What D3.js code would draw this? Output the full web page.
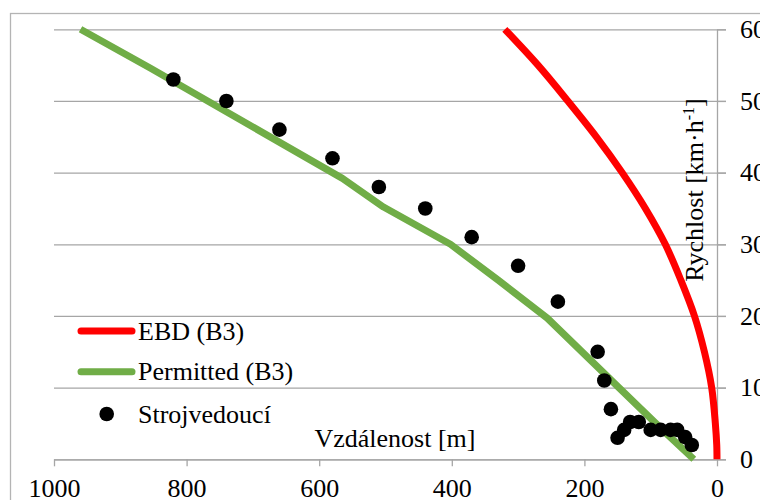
<!DOCTYPE html>
<html>
<head>
<meta charset="utf-8">
<script src="https://cdn.jsdelivr.net/npm/d3@7"></script>
<style>
body { margin: 0; background: #fff; }
svg, svg text { font-family: "Liberation Serif", "Times New Roman", Times, "DejaVu Serif", serif; }
</style>
</head>
<body>
<div id="chart"></div>
<script>
var w = 760;
var h = 500;

// distance [m], speed [km/h]
var ebdDist = [0, 0.4, 2.5, 8, 19, 34, 54.5, 78, 108, 143, 182, 225, 270, 320];
var ebdSpeed = [0, 2, 5, 10, 15, 20, 25, 30, 35, 40, 45, 50, 55, 60];

var permDist = [960, 855, 565, 503, 402, 330, 256, 148, 81, 35];
var permSpeed = [60, 54.6, 39.2, 35.2, 30, 25, 19.7, 10, 4, 0];

var driverDist = [820, 740, 660, 580, 510, 440, 370, 300, 240, 180, 170, 160, 150, 140, 131, 118, 100, 85, 70, 60, 48, 38];
var driverSpeed = [53, 50, 46, 42, 38, 35, 31, 27, 22, 15, 11, 7, 3, 4.1, 5.2, 5.2, 4.1, 4.1, 4.1, 4.1, 3.1, 2];

var xTicks = [1000, 800, 600, 400, 200, 0];
var yTicks = [0, 10, 20, 30, 40, 50, 60];

var seriesNames = ["EBD (B3)", "Permitted (B3)", "Strojvedoucí"];
var seriesColors = ["#ff0000", "#70ad47", "#000000"];

var gridColor = "#a6a6a6";
var serif = "'Liberation Serif', 'Times New Roman', Times, 'DejaVu Serif', serif";
var fs = "26px";

var xScale = d3.scaleLinear().domain([1000, 0]).range([54, 717]);
var yScale = d3.scaleLinear().domain([0, 60]).range([459.3, 29.3]);

var svg = d3.select("#chart")
	.append("svg")
	.attr("width", w)
	.attr("height", h);

// outer frame of the chart (cut by the picture edge)
svg.append("rect")
	.attr("x", 10.5)
	.attr("y", 13.5)
	.attr("width", 900)
	.attr("height", 700)
	.attr("fill", "none")
	.attr("stroke", "#b4b4b4")
	.attr("stroke-width", 1.3);

// horizontal gridlines, running on past the axis as ticks
var grid = svg.append("g")
	.attr("transform", "translate(726,0)")
	.call(d3.axisLeft(yScale).tickValues(yTicks).tickSize(726 - 54).tickFormat(""));
grid.select(".domain").remove();
grid.selectAll("line").attr("stroke", gridColor).attr("stroke-width", 1.3);

// right axis
var yAxis = svg.append("g")
	.attr("transform", "translate(" + xScale(0) + ",0)")
	.call(d3.axisRight(yScale).tickValues(yTicks).tickSize(9).tickPadding(14).tickSizeOuter(0));
yAxis.attr("font-family", serif);
yAxis.select(".domain").attr("stroke", gridColor).attr("stroke-width", 1.3);
yAxis.selectAll("line").attr("stroke", gridColor).attr("stroke-width", 1.3);
yAxis.selectAll("text")
	.attr("font-size", fs)
	.attr("fill", "#000");

// bottom axis
var xAxis = svg.append("g")
	.attr("transform", "translate(0," + yScale(0) + ")")
	.call(d3.axisBottom(xScale).tickValues(xTicks).tickFormat(d3.format("d"))
		.tickSize(7).tickPadding(12).tickSizeOuter(0));
xAxis.attr("font-family", serif);
xAxis.select(".domain").attr("stroke", gridColor).attr("stroke-width", 1.3);
xAxis.selectAll("line").attr("stroke", gridColor).attr("stroke-width", 1.3);
xAxis.selectAll("text")
	.attr("font-size", fs)
	.attr("fill", "#000");

// EBD curve
var ebd = d3.zip(ebdDist, ebdSpeed);
svg.append("path")
	.datum(ebd)
	.attr("fill", "none")
	.attr("stroke", seriesColors[0])
	.attr("stroke-width", 7)
	.attr("d", d3.line()
		.x(function (d) { return xScale(d[0]); })
		.y(function (d) { return yScale(d[1]); })
		.curve(d3.curveCatmullRom.alpha(0.5)));

// permitted curve
var perm = d3.zip(permDist, permSpeed);
svg.append("path")
	.datum(perm)
	.attr("fill", "none")
	.attr("stroke", seriesColors[1])
	.attr("stroke-width", 7)
	.attr("stroke-linejoin", "round")
	.attr("d", d3.line()
		.x(function (d) { return xScale(d[0]); })
		.y(function (d) { return yScale(d[1]); }));

// driver points
svg.selectAll("circle.drv")
	.data(d3.zip(driverDist, driverSpeed))
	.enter()
	.append("circle")
	.attr("class", "drv")
	.attr("cx", function (d) { return xScale(d[0]); })
	.attr("cy", function (d) { return yScale(d[1]); })
	.attr("r", 7.3)
	.attr("fill", seriesColors[2]);

// axis titles
svg.append("text")
	.attr("x", 395)
	.attr("y", 447)
	.attr("text-anchor", "middle")
	.attr("font-family", serif)
	.attr("font-size", fs)
	.text("Vzdálenost [m]");

var yTitle = svg.append("text")
	.attr("transform", "translate(703,190) rotate(-90)")
	.attr("text-anchor", "middle")
	.attr("font-family", serif)
	.attr("font-size", fs);
yTitle.append("tspan").text("Rychlost [km·h");
yTitle.append("tspan").attr("dy", -9).attr("font-size", "16px").text("-1");
yTitle.append("tspan").attr("dy", 9).text("]");

// legend
var legend = svg.append("g").attr("font-family", serif);
var legY = [331, 371.7, 414];
seriesNames.forEach(function (name, i) {
	if (i < 2) {
		legend.append("line")
			.attr("x1", 81).attr("x2", 132)
			.attr("y1", legY[i]).attr("y2", legY[i])
			.attr("stroke", seriesColors[i])
			.attr("stroke-width", 7)
			.attr("stroke-linecap", "round");
	} else {
		legend.append("circle")
			.attr("cx", 106.7).attr("cy", legY[i])
			.attr("r", 7.3)
			.attr("fill", seriesColors[i]);
	}
	legend.append("text")
		.attr("x", 138)
		.attr("y", legY[i] + 8.5)
		.attr("font-size", fs)
		.text(name);
});
</script>
</body>
</html>
